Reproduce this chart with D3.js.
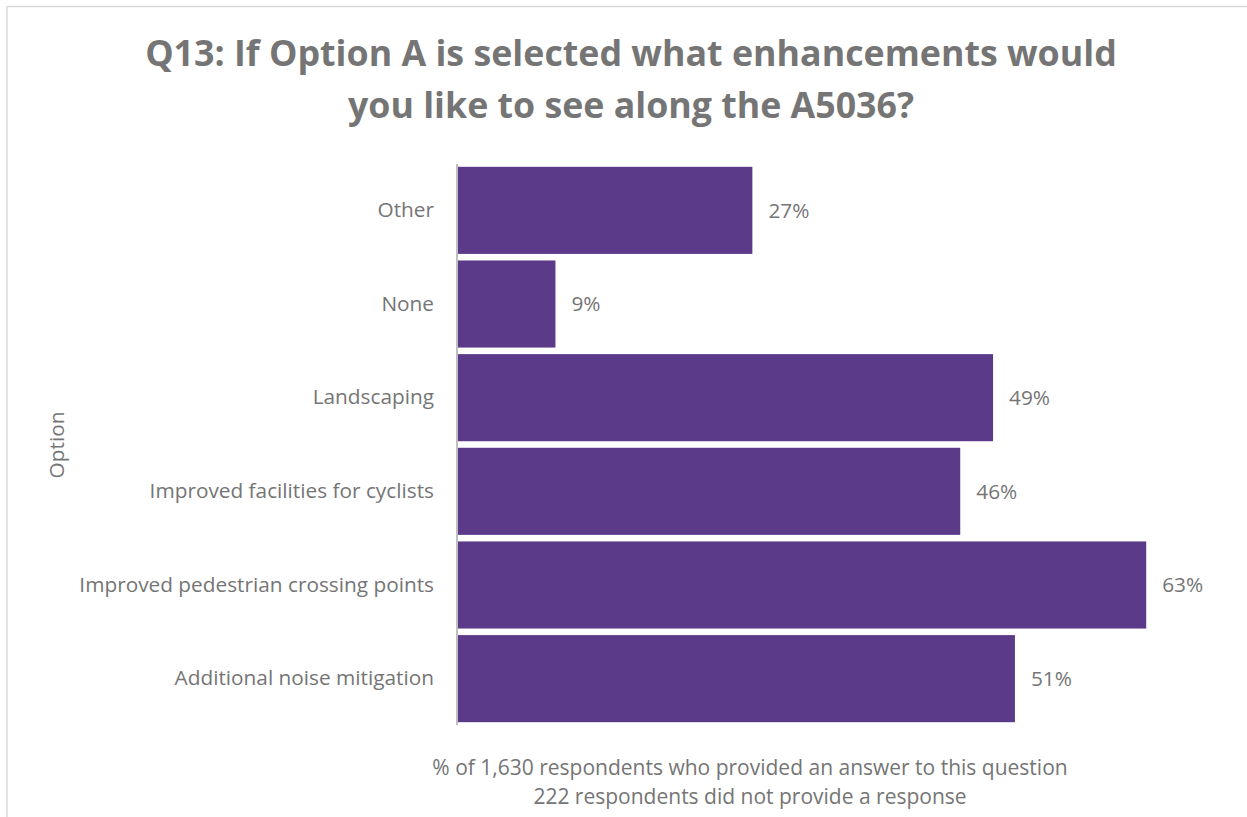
<!DOCTYPE html>
<html>
<head>
<meta charset="utf-8">
<script src="https://cdn.jsdelivr.net/npm/d3@7"></script>
<style>
  html, body { margin: 0; padding: 0; background: #ffffff; }
  svg { display: block; }
  text { font-family: "Open Sans", "DejaVu Sans", sans-serif; }
</style>
</head>
<body>
<svg id="chart" width="1247" height="817"></svg>
<script>
// Survey answers, top to bottom as listed on the chart
const categories = [
  "Other",
  "None",
  "Landscaping",
  "Improved facilities for cyclists",
  "Improved pedestrian crossing points",
  "Additional noise mitigation"
];
const percentages = [27, 9, 49, 46, 63, 51];

const titleLines = [
  "Q13: If Option A is selected what enhancements would",
  "you like to see along the A5036?"
];
const axisTitle = "Option";
const footnoteLines = [
  "% of 1,630 respondents who provided an answer to this question",
  "222 respondents did not provide a response"
];

const data = categories.map((c, i) => ({ category: c, value: percentages[i] }));

const svg = d3.select("#chart");
const textColor = "#757575";
const barColor = "#5c3a8a";
const labelSize = 20.8;

// Frame lines along top and left edges
svg.append("line")
  .attr("x1", 7).attr("x2", 1247).attr("y1", 6.5).attr("y2", 6.5)
  .attr("stroke", "#d9d9d9").attr("stroke-width", 1.5);
svg.append("line")
  .attr("x1", 7).attr("x2", 7).attr("y1", 6).attr("y2", 817)
  .attr("stroke", "#d9d9d9").attr("stroke-width", 1.5);

// Fit a text element to a target width by scaling its font size
function fitWidth(sel, target) {
  const fs = parseFloat(sel.attr("font-size"));
  const w = sel.node().getComputedTextLength();
  sel.attr("font-size", fs * target / w);
}

// Title
const titleWidths = [972, 566];
const titleY = [66, 118];
titleLines.forEach((t, i) => {
  const el = svg.append("text")
    .attr("x", 631).attr("y", titleY[i])
    .attr("text-anchor", "middle")
    .attr("font-weight", "bold")
    .attr("font-size", 34)
    .attr("fill", textColor)
    .text(t);
  fitWidth(el, titleWidths[i]);
});

// Scales
const x = d3.scaleLinear().domain([0, 70]).range([457, 457 + 70 * 10.94]);
const y = d3.scaleBand()
  .domain(categories)
  .range([164, 725])
  .paddingInner(0.07)
  .paddingOuter(0.03);

// Bars
svg.append("g").selectAll("rect")
  .data(data)
  .join("rect")
  .attr("x", x(0))
  .attr("y", d => y(d.category))
  .attr("width", d => x(d.value) - x(0))
  .attr("height", y.bandwidth())
  .attr("fill", barColor);

// Category axis
const yAxis = svg.append("g")
  .attr("transform", `translate(${x(0)},0)`)
  .call(d3.axisLeft(y).tickSize(0).tickPadding(23));
yAxis.select(".domain")
  .attr("stroke", "#bfbfbf")
  .attr("stroke-width", 2)
  .attr("d", "M0,164V725");
yAxis.selectAll(".tick text")
  .attr("font-family", "'Open Sans', sans-serif")
  .attr("font-size", labelSize)
  .attr("fill", textColor);

// Value labels
svg.append("g").selectAll("text")
  .data(data)
  .join("text")
  .attr("x", d => x(d.value) + 16)
  .attr("y", d => y(d.category) + y.bandwidth() / 2)
  .attr("dy", "0.35em")
  .attr("font-size", labelSize)
  .attr("fill", textColor)
  .text(d => d.value + "%");

// Axis title
svg.append("text")
  .attr("transform", "translate(64,445) rotate(-90)")
  .attr("text-anchor", "middle")
  .attr("font-size", labelSize)
  .attr("fill", textColor)
  .text(axisTitle);

// Footnote
const footY = [775, 804];
footnoteLines.forEach((t, i) => {
  svg.append("text")
    .attr("x", 750).attr("y", footY[i])
    .attr("text-anchor", "middle")
    .attr("font-size", 21)
    .attr("fill", textColor)
    .text(t);
});
</script>
</body>
</html>
